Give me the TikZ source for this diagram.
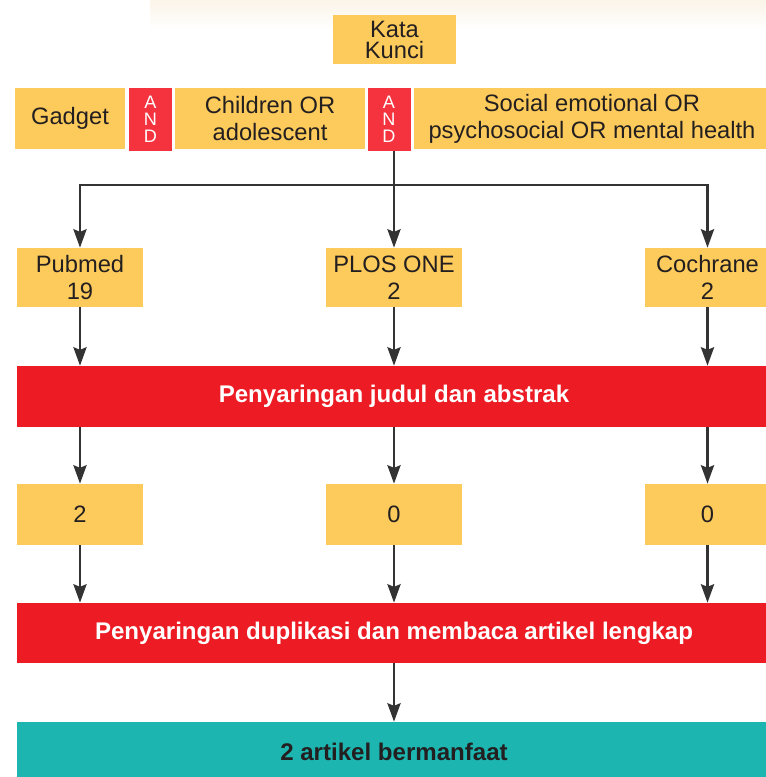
\documentclass[tikz,border=0pt]{standalone}
\usepackage{fontspec}
\setmainfont{Liberation Sans}
\usepackage{xcolor}
\usetikzlibrary{arrows.meta}
\definecolor{kuning}{HTML}{FDCB5B}
\definecolor{merah}{HTML}{ED1C24}
\definecolor{merahand}{HTML}{F4333F}
\definecolor{hijau}{HTML}{1DB5AF}
\definecolor{tinta}{HTML}{231F20}
\definecolor{garis}{HTML}{333333}
\definecolor{latar}{HTML}{FBF4E8}

\begin{document}
\begin{tikzpicture}[x=0.02cm,y=-0.02cm,
    kotak/.style={fill=kuning, text=tinta, inner sep=0pt, align=center,
      font=\fontsize{13.5}{15.3}\selectfont},
    opand/.style={fill=merahand, text=white, inner sep=0pt, align=center,
      minimum width=0.86cm, minimum height=1.26cm,
      font=\fontsize{10.3}{9.6}\selectfont},
    pita/.style={inner sep=0pt, minimum width=15.08cm, minimum height=1.22cm,
      font=\fontsize{13.7}{15}\selectfont\bfseries},
    garisan/.style={draw=garis, line width=1.3pt},
    panah/.style={garisan, -{Stealth[length=10.5pt,width=7.5pt,inset=1.5pt]}}]
  \clip (0,0) rectangle (766,777);
  % faint glow along the top edge
  \shade[top color=latar, bottom color=white] (150,0) rectangle (766,30);

  % search keywords
  \node[kotak, minimum width=2.46cm, minimum height=0.98cm,
    font=\fontsize{13.5}{12}\selectfont] (kata) at (394.5,39.5) {Kata\\Kunci};
  \node[kotak, minimum width=2.2cm, minimum height=1.22cm] (gadget) at (70,118.5) {Gadget};
  \node[opand] (and1) at (150.5,119.5) {A\\N\\D};
  \node[kotak, minimum width=3.8cm, minimum height=1.22cm] (anak) at (270,118.5) {Children OR\\adolescent};
  \node[opand] (and2) at (389,119.5) {A\\N\\D};
  \node[kotak, minimum width=7.12cm, minimum height=1.22cm] (sosial) at (592,118.5)
    {Social emotional OR\\psychosocial OR mental health};

  % databases
  \node[kotak, minimum width=2.52cm, minimum height=1.18cm] (pubmed) at (80,277.5) {Pubmed\\19};
  \node[kotak, minimum width=2.72cm, minimum height=1.18cm] (plos) at (394,277.5) {PLOS ONE\\2};
  \node[kotak, minimum width=2.5cm, minimum height=1.18cm] (coch) at (707.5,277.5) {Cochrane\\2};

  \coordinate (cabang) at (394,185);
  \draw[garisan] (and2.south -| plos) -- (cabang);
  \draw[panah] (cabang) -| (pubmed);
  \draw[panah] (cabang) -- (plos);
  \draw[panah] (cabang) -| (coch);

  % screening of title and abstract
  \node[pita, fill=merah, text=white] (saring1) at (394,396.5) {Penyaringan judul dan abstrak};
  \node[kotak, minimum width=2.52cm, minimum height=1.22cm] (hasil1) at (80,514.5) {2};
  \node[kotak, minimum width=2.72cm, minimum height=1.22cm] (hasil2) at (394,514.5) {0};
  \node[kotak, minimum width=2.5cm, minimum height=1.22cm] (hasil3) at (707.5,514.5) {0};

  \draw[panah] (pubmed) -- (pubmed |- saring1.north);
  \draw[panah] (plos) -- (plos |- saring1.north);
  \draw[panah] (coch) -- (coch |- saring1.north);
  \draw[panah] (saring1.south -| hasil1) -- (hasil1);
  \draw[panah] (saring1.south -| hasil2) -- (hasil2);
  \draw[panah] (saring1.south -| hasil3) -- (hasil3);

  % duplicates and full text
  \node[pita, fill=merah, text=white, minimum height=1.2cm] (saring2) at (394,633)
    {Penyaringan duplikasi dan membaca artikel lengkap};
  \draw[panah] (hasil1) -- (hasil1 |- saring2.north);
  \draw[panah] (hasil2) -- (hasil2 |- saring2.north);
  \draw[panah] (hasil3) -- (hasil3 |- saring2.north);

  % result
  \node[pita, fill=hijau, text=tinta, minimum height=1.2cm] (akhir) at (394,752) {2 artikel bermanfaat};
  \draw[panah] (saring2) -- (akhir);
\end{tikzpicture}
\end{document}
